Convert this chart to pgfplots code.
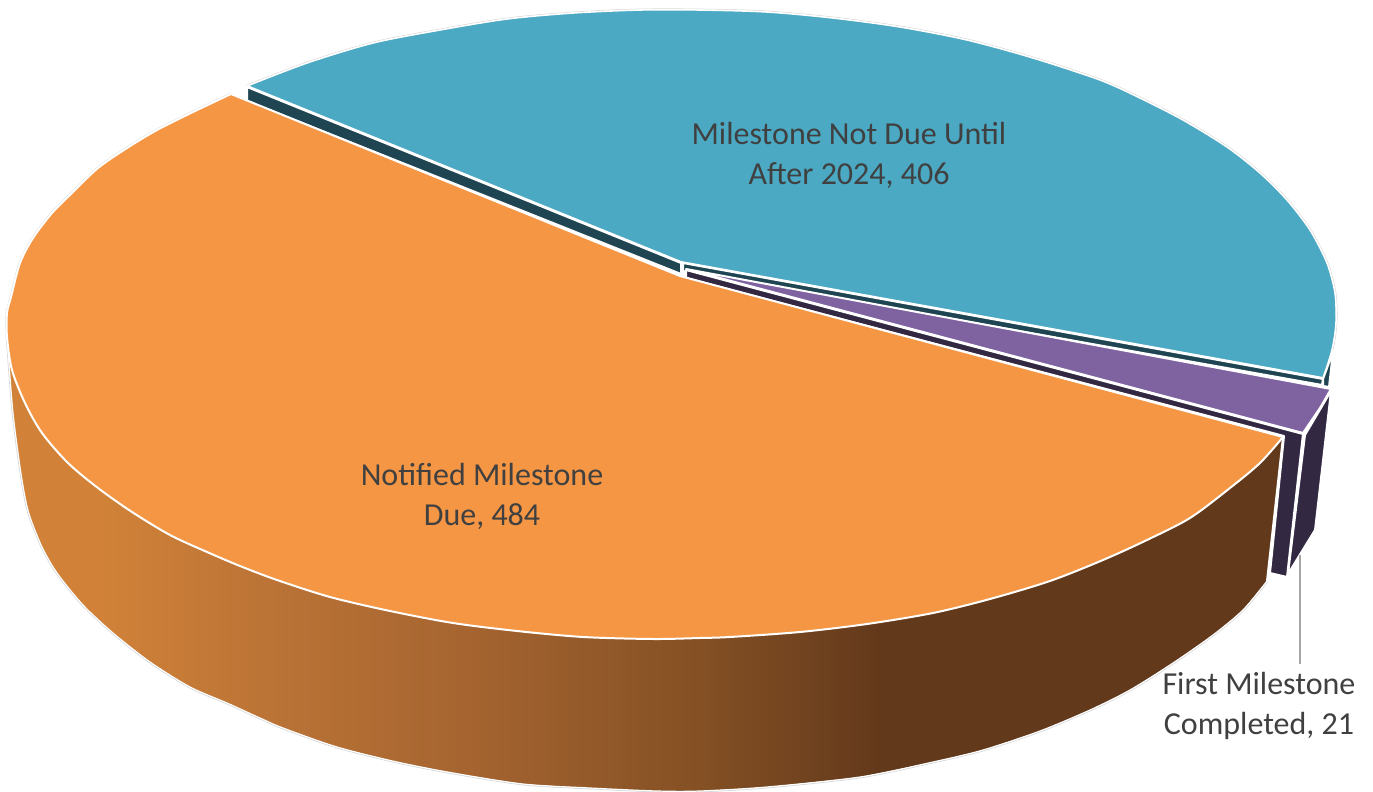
\documentclass[border=0pt]{standalone}
\usepackage{pgfplots}
\pgfplotsset{compat=1.18}
\usepackage{fontspec}
\setmainfont{Carlito}
\definecolor{blueTop}{HTML}{4BA9C4}
\definecolor{blueDark}{HTML}{1F4552}
\definecolor{orangeTop}{HTML}{F59645}
\definecolor{purpleTop}{HTML}{7F63A1}
\definecolor{purpleDark}{HTML}{322842}
\definecolor{labelGrey}{HTML}{404040}
\definecolor{rimGrey}{HTML}{D4D4D4}
\definecolor{s0}{HTML}{D18238}
\definecolor{s1}{HTML}{BC7436}
\definecolor{s2}{HTML}{A56430}
\definecolor{s3}{HTML}{845024}
\definecolor{s4}{HTML}{63391B}
\pgfdeclarehorizontalshading{sideshade}{100bp}{
  color(0bp)=(s0);
  color(28.6bp)=(s0);
  color(34.9bp)=(s1);
  color(43.1bp)=(s2);
  color(52.2bp)=(s3);
  color(59.2bp)=(s4);
  color(100bp)=(s4)
}
\begin{document}
\begin{tikzpicture}
\begin{axis}[
  scale only axis, width=686.5pt, height=396pt,
  xmin=0, xmax=1373, ymin=0, ymax=792, y dir=reverse,
  hide axis, clip=false,
  every axis plot/.append style={no markers, forget plot, line join=round, tension=0.5},
]
% faint rim
\addplot[smooth, draw=rimGrey, line width=1.3pt] coordinates {(247,86)(307,63)(373,43)(440,30)(507,19)(573,13)(640,10)(700,10)(767,12)(833,18)(900,27)(967,40)(1033,58)(1100,80)(1140,98)(1183,120)(1227,147)(1260,173)(1287,200)(1310,230)(1327,263)(1335,293)(1336,323)(1332,350)(1323,378)};
\addplot[smooth, draw=rimGrey, line width=1.3pt] coordinates {(231,94)(193,112)(157,130)(127,148)(98,168)(73,192)(52,213)(33,238)(20,263)(11,297)(7,313)(7,337)(8,350)(13,413)(20,467)(25,497)(30,517)(42,547)(57,573)(83,605)(113,633)(150,662)(190,687)(227,703)(260,718)(283,728)(337,747)(397,762)(453,773)(523,784)(590,788)(657,791)(700,791)(767,787)(860,777)(933,762)(983,750)(1040,731)(1090,710)(1130,690)(1173,663)(1213,635)(1243,610)(1267,581)};
% blue slice: cut faces
\addplot[fill=blueDark, draw=white, line width=1pt] coordinates {(247,87)(681,263)(681,274)(247,101)} -- cycle;
\addplot[fill=blueDark, draw=white, line width=1pt] coordinates {(683,263)(1323,379)(1322,385)(683,271)} -- cycle;
\addplot[fill=blueDark, draw=white, line width=1pt] coordinates {(1323,379)(1333,352)(1329,387)(1323,386)} -- cycle;
% blue top
\addplot[fill=blueTop, draw=none] coordinates {(681,262)(247,86)(307,63)(373,43)(440,30)(507,19)(573,13)(640,10)(700,10)(767,12)(833,18)(900,27)(967,40)(1033,58)(1100,80)(1140,98)(1183,120)(1227,147)(1260,173)(1287,200)(1310,230)(1327,263)(1335,293)(1336,323)(1332,350)(1323,378)} -- cycle;
\addplot[smooth, draw=white, line width=0.8pt] coordinates {(247,86)(307,63)(373,43)(440,30)(507,19)(573,13)(640,10)(700,10)(767,12)(833,18)(900,27)(967,40)(1033,58)(1100,80)(1140,98)(1183,120)(1227,147)(1260,173)(1287,200)(1310,230)(1327,263)(1335,293)(1336,323)(1332,350)(1323,378)};
\addplot[draw=white, line width=1pt] coordinates {(247,86)(681,262)(1323,378)};
% purple slice: side faces
\addplot[fill=purpleDark, draw=white, line width=1pt] coordinates {(1305,435)(1331,391)(1317,513)(1315,530)(1288,574)} -- cycle;
\addplot[fill=purpleDark, draw=white, line width=1pt] coordinates {(686,270)(1303,434)(1287,577)(1270,573)(1284,436)(686,278)} -- cycle;
% purple top
\addplot[fill=purpleTop, draw=white, line width=1pt] coordinates {(686,269)(1331,389)(1320,408)(1303,433)} -- cycle;
% orange side
\addplot[shading=sideshade, draw=none] coordinates {(7,337)(12,370)(25,403)(42,433)(68,463)(98,488)(132,512)(170,535)(207,552)(240,566)(277,580)(330,597)(390,611)(453,623)(517,631)(583,637)(653,639)(700,638)(730,637)(800,632)(867,624)(933,613)(990,599)(1050,581)(1103,560)(1147,540)(1190,518)(1230,488)(1260,463)(1283,437)(1267,581)(1243,610)(1213,635)(1173,663)(1130,690)(1090,710)(1040,731)(983,750)(933,762)(860,777)(767,787)(700,791)(657,791)(590,788)(523,784)(453,773)(397,762)(337,747)(283,728)(260,718)(227,703)(190,687)(150,662)(113,633)(83,605)(57,573)(42,547)(30,517)(25,497)(20,467)(13,413)(8,350)} -- cycle;
\addplot[draw=white, line width=1pt] coordinates {(1283,437)(1267,581)};
\addplot[smooth, draw=white, line width=0.6pt] coordinates {(1267,581)(1243,610)(1213,635)(1173,663)(1130,690)(1090,710)(1040,731)(983,750)(933,762)(860,777)(767,787)(700,791)(657,791)(590,788)(523,784)(453,773)(397,762)(337,747)(283,728)(260,718)(227,703)(190,687)(150,662)(113,633)(83,605)(57,573)(42,547)(30,517)(25,497)(20,467)(13,413)(8,350)};
% orange top
\addplot[fill=orangeTop, draw=none] coordinates {(680,276)(231,94)(193,112)(157,130)(127,148)(98,168)(73,192)(52,213)(33,238)(20,263)(11,297)(7,313)(7,337)(12,370)(25,403)(42,433)(68,463)(98,488)(132,512)(170,535)(207,552)(240,566)(277,580)(330,597)(390,611)(453,623)(517,631)(583,637)(653,639)(700,638)(730,637)(800,632)(867,624)(933,613)(990,599)(1050,581)(1103,560)(1147,540)(1190,518)(1230,488)(1260,463)(1283,437)} -- cycle;
\addplot[smooth, draw=white, line width=1pt] coordinates {(231,94)(193,112)(157,130)(127,148)(98,168)(73,192)(52,213)(33,238)(20,263)(11,297)(7,313)(7,337)(12,370)(25,403)(42,433)(68,463)(98,488)(132,512)(170,535)(207,552)(240,566)(277,580)(330,597)(390,611)(453,623)(517,631)(583,637)(653,639)(700,638)(730,637)(800,632)(867,624)(933,613)(990,599)(1050,581)(1103,560)(1147,540)(1190,518)(1230,488)(1260,463)(1283,437)};
\addplot[draw=white, line width=1pt] coordinates {(231,94)(680,276)(1283,437)};
% leader
\addplot[draw=black!35, line width=0.7pt] coordinates {(1300,555)(1300,664)};
% labels
\node[text=labelGrey, align=center, font=\fontsize{16}{20}\selectfont] at (axis cs:849,155) {Milestone Not Due Until\\After 2024, 406};
\node[text=labelGrey, align=center, font=\fontsize{16}{20}\selectfont] at (axis cs:482,496) {Notified Milestone\\Due, 484};
\node[text=labelGrey, align=center, font=\fontsize{16}{20}\selectfont] at (axis cs:1259,706) {First Milestone\\Completed, 21};
\end{axis}
\pgfresetboundingbox
\path[use as bounding box] (0,0) rectangle (686.5pt,396pt);
\end{tikzpicture}
\end{document}
